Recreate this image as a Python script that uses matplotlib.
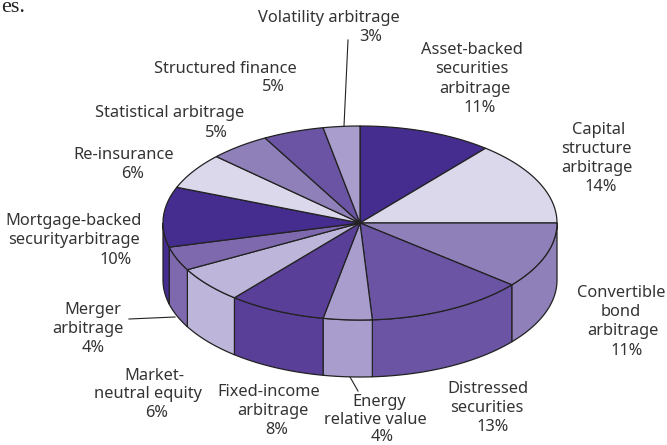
import numpy as np
import matplotlib
matplotlib.use("Agg")
import matplotlib.pyplot as plt
from matplotlib.patches import Polygon

plt.rcParams["font.family"] = "Noto Sans"

categories = ["Asset-backed\nsecurities\narbitrage", "Capital\nstructure\narbitrage",
              "Convertible\nbond\narbitrage", "Distressed\nsecurities",
              "Energy\nrelative value", "Fixed-income\narbitrage",
              "Market-\nneutral equity", "Merger\narbitrage",
              "Mortgage-backed\nsecurityarbitrage", "Re-insurance",
              "Statistical arbitrage", "Structured finance", "Volatility arbitrage"]
values = [11, 14, 11, 13, 4, 8, 6, 4, 10, 6, 5, 5, 3]
colors = ["#452d8f", "#dbd8ec", "#9080b9", "#6a54a3", "#a89dcc", "#5a3f99", "#bdb6da",
          "#7f69ae", "#452d8f", "#dbd8ec", "#9080b9", "#6a54a3", "#a89dcc"]

# label placement in pixels: centre x of each line, then y of each line
label_x = [[472, 472, 475, 480], [599, 596, 597, 601], [621, 621, 623, 627], [488, 487, 493],
           [379, 375, 382], [269, 273, 277], [154, 148, 157], [93, 88, 93],
           [74, 74, 116], [124, 133], [170, 216], [225, 273], [329, 371]]
label_y = [[50, 69, 89, 108], [130, 149, 168, 187], [293, 312, 331, 351], [389, 408, 427],
           [402, 420, 437], [392, 411, 430], [376, 394, 413], [310, 329, 348],
           [221, 240, 260], [155, 174], [113, 133], [69, 87], [18, 37]]

leaders = [((348, 40), (344, 126)), ((129, 319), (175, 317)), ((350, 377), (358, 391))]

cx, cy, a, b, depth = 360, 223, 197, 97, 57

fig = plt.figure(figsize=(6.67, 4.45), dpi=100)
ax = fig.add_axes([0, 0, 1, 1])
ax.set_xlim(0, 667)
ax.set_ylim(445, 0)
ax.axis("off")


def rim(start, end, dy=0):
    t = np.radians(np.linspace(start, end, 80))
    return np.column_stack([cx + a * np.sin(t), cy + dy - b * np.cos(t)])


edges = np.concatenate([[0], np.cumsum(values)]) * 3.6

# side walls, only the front half of the pie shows
for i, c in enumerate(colors):
    s, e = max(edges[i], 90), min(edges[i + 1], 270)
    if e <= s:
        continue
    top = rim(s, e)
    bottom = rim(s, e, depth)[::-1]
    ax.add_patch(Polygon(np.vstack([top, bottom]), closed=True, fc=c, ec="#222222", lw=0.9))

for i, c in enumerate(colors):
    pts = np.vstack([[[cx, cy]], rim(edges[i], edges[i + 1])])
    ax.add_patch(Polygon(pts, closed=True, fc=c, ec="#222222", lw=0.9))

for p, q in leaders:
    ax.plot([p[0], q[0]], [p[1], q[1]], color="#222222", lw=0.8)

for name, v, xs, ys in zip(categories, values, label_x, label_y):
    for txt, x, y in zip(name.split("\n") + [f"{v}%"], xs, ys):
        ax.text(x, y, txt, ha="center", va="center", fontsize=11.8, color="#333333")

# tail of the page text above the figure
ax.text(1, 12, "es.", family="Liberation Serif", fontsize=16, ha="left", va="baseline", color="#222222")

fig.savefig("out.png", dpi=100)
